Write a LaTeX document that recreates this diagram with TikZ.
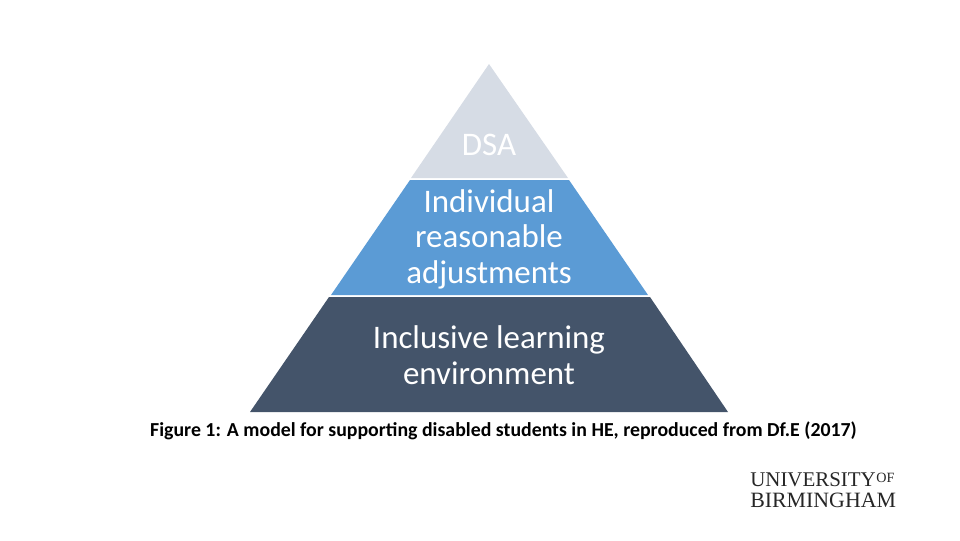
\documentclass[tikz,border=0pt]{standalone}
\usepackage{fontspec}
\setmainfont{Carlito}
\newfontfamily\logofont{Liberation Serif}
\usetikzlibrary{positioning}
\definecolor{toplayer}{HTML}{D6DCE5}
\definecolor{midlayer}{HTML}{5B9BD5}
\definecolor{baselayer}{HTML}{44546A}

\begin{document}
\begin{tikzpicture}
  [x=0.75pt, y=-0.75pt,
   every node/.style = {inner sep=0pt, align=center},
   layertext/.style = {text=white, font=\fontsize{24.7}{26.6}\selectfont},
   logotext/.style = {text=black!85, font=\logofont\fontsize{15.7}{16}\selectfont, anchor=west}]
  \useasboundingbox (0,0) rectangle (960,540);
  \fill [toplayer] (489,64) -- (568,178) -- (411,178) -- cycle;
  \fill [midlayer] (410,180) -- (569,180) -- (648,295) -- (331,295) -- cycle;
  \fill [baselayer] (329,297) -- (650,297) -- (728,412) -- (250,412) -- cycle;

  \node (dsa) [layertext] at (489,145) {DSA};
  \node (individual) [layertext] at (489,239) {Individual\\reasonable\\adjustments};
  \node (inclusive) [layertext] at (489,355) {Inclusive learning\\environment};
  \node (caption) [font=\fontsize{14.87}{18}\selectfont\bfseries] at (503.5,430.5) {Figure 1: A model for supporting disabled students in HE, reproduced from Df.E (2017)};
  \node (university) [logotext] at (750,480) {UNIVERSITY};
  \node (of) [logotext, font=\logofont\fontsize{10.6}{11}\selectfont, right=0pt of university, yshift=1.5pt] {OF};
  \node (birmingham) [logotext, font=\logofont\fontsize{16.4}{17}\selectfont] at (750,500) {BIRMINGHAM};
\end{tikzpicture}
\end{document}
